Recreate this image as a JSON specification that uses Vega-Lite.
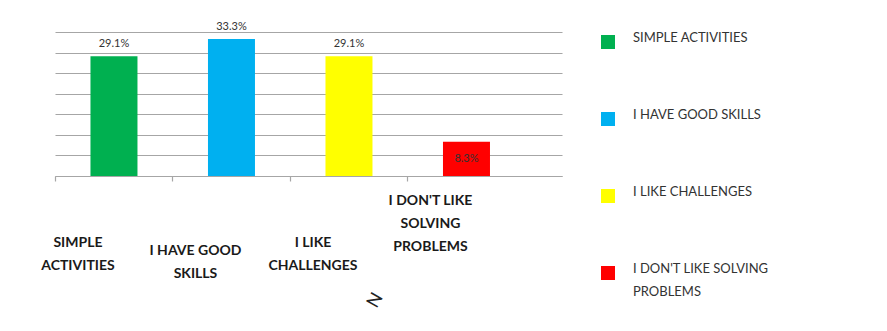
{
  "$schema": "https://vega.github.io/schema/vega-lite/v6.json",
  "autosize": {"type": "none"},
  "width": 507,
  "height": 144,
  "padding": {"left": 55, "top": 32, "right": 325, "bottom": 155},
  "background": "white",
  "config": {
    "view": {"stroke": null},
    "font": "Lato",
    "style": {"guide-label": {"lineHeight": 23}}
  },
  "data": {
    "values": [
      {"reason": "SIMPLE ACTIVITIES", "share": 0.291},
      {"reason": "I HAVE GOOD SKILLS", "share": 0.333},
      {"reason": "I LIKE CHALLENGES", "share": 0.291},
      {"reason": "I DON'T LIKE SOLVING PROBLEMS", "share": 0.083}
    ]
  },
  "encoding": {
    "x": {
      "field": "reason",
      "type": "nominal",
      "sort": null,
      "scale": {"paddingInner": 0.6, "paddingOuter": 0.4574, "align": 0.33},
      "axis": {
        "title": "N",
        "titleFont": "Lato",
        "titleFontSize": 18,
        "titleFontWeight": "normal",
        "titleColor": "#222222",
        "titleAngle": -60,
        "titleX": 320,
        "titleY": 124,
        "titleAlign": "center",
        "titleBaseline": "middle",
        "domainColor": "#a6a6a6",
        "domainWidth": 1.2,
        "tickColor": "#a6a6a6",
        "tickWidth": 1.2,
        "tickSize": 5,
        "bandPosition": -0.75,
        "labelAngle": 0,
        "labelFont": "Lato",
        "labelFontSize": 14,
        "labelFontWeight": "bold",
        "labelColor": "#1a1a1a",
        "labelBaseline": "top",
        "labelLineHeight": 23,
        "labelOffset": -36,
        "labelLimit": 200,
        "labelPadding": {
          "condition": [
            {"test": "datum.value == \"I DON'T LIKE SOLVING PROBLEMS\"", "value": 12},
            {"test": "datum.value == 'I HAVE GOOD SKILLS'", "value": 62}
          ],
          "value": 54
        },
        "labelExpr": "datum.value == 'SIMPLE ACTIVITIES' ? ['SIMPLE', 'ACTIVITIES'] : datum.value == 'I HAVE GOOD SKILLS' ? ['I HAVE GOOD', 'SKILLS'] : datum.value == 'I LIKE CHALLENGES' ? ['I LIKE', 'CHALLENGES'] : datum.value == \"I DON'T LIKE SOLVING PROBLEMS\" ? [\"I DON'T LIKE\", 'SOLVING', 'PROBLEMS'] : ''"
      }
    },
    "y": {
      "field": "share",
      "type": "quantitative",
      "scale": {"domain": [0, 0.35], "nice": false},
      "axis": {
        "title": null,
        "values": [0, 0.05, 0.1, 0.15, 0.2, 0.25, 0.3, 0.35],
        "grid": true,
        "gridColor": "#a6a6a6",
        "gridWidth": 1.2,
        "domain": false,
        "ticks": false,
        "labels": false
      }
    }
  },
  "layer": [
    {
      "mark": {"type": "bar"},
      "encoding": {
        "color": {
          "field": "reason",
          "type": "nominal",
          "sort": null,
          "scale": {
            "domain": ["SIMPLE ACTIVITIES", "I HAVE GOOD SKILLS", "I LIKE CHALLENGES", "I DON'T LIKE SOLVING PROBLEMS"],
            "range": ["#00b050", "#00b0f0", "#ffff00", "#ff0000"]
          },
          "legend": {
            "title": null,
            "orient": "none",
            "legendX": 546,
            "legendY": 3,
            "padding": 0,
            "symbolType": "square",
            "symbolSize": 196,
            "symbolStrokeWidth": 0,
            "rowPadding": 60,
            "labelOffset": 18,
            "labelFont": "Lato",
            "labelFontSize": 13,
            "labelColor": "#333333",
            "labelBaseline": "alphabetic",
            "labelLimit": 300,
            "labelExpr": "datum.label == \"I DON'T LIKE SOLVING PROBLEMS\" ? [\"I DON'T LIKE SOLVING\", 'PROBLEMS'] : datum.label"
          }
        }
      }
    },
    {
      "mark": {
        "type": "text",
        "font": "Lato",
        "fontSize": 11,
        "color": "#333333",
        "baseline": "bottom",
        "dy": {"expr": "datum.share < 0.1 ? 22 : -7"}
      },
      "encoding": {
        "text": {"field": "share", "type": "quantitative", "format": ".1%"}
      }
    }
  ]
}
